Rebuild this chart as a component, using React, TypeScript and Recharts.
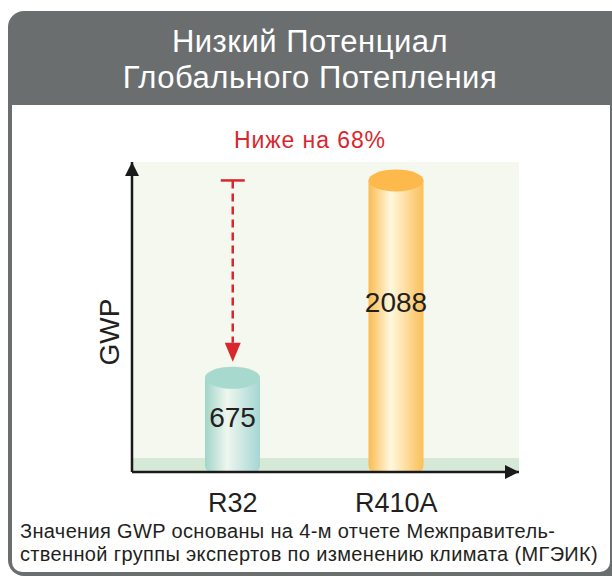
import React from 'react';
import { Bar, BarChart, CartesianGrid, ReferenceArea, ReferenceLine, XAxis, YAxis } from 'recharts';

const refrigerants = ['R32', 'R410A'];
const gwpValues = [675, 2088];
const groundBand = [0, 100];
const titleLines = ['Низкий Потенциал', 'Глобального Потепления'];
const reductionText = 'Ниже на 68%';
const yAxisTitle = 'GWP';
const footnoteLines = [
  'Значения GWP основаны на 4-м отчете Межправитель-',
  'ственной группы экспертов по изменению климата (МГЭИК)',
];

const data = refrigerants.map((name, i) => ({ name, gwp: gwpValues[i] }));

const FONT = '"Liberation Sans", Arial, Helvetica, sans-serif';
const RED = '#d9272e';
const INK = '#231f20';

const palettes = [
  { edgeL: '#9fd5ca', mid: '#eff6ef', edgeR: '#a5d6d3', top: '#a8d9cf' },
  { edgeL: '#fbbb50', mid: '#fff8de', edgeR: '#fbbf58', top: '#fdb94c' },
];

function Cylinder(props: any) {
  const { x, y, width, height, index, payload } = props;
  const rx = width / 2;
  const ry = 11;
  const cx = x + rx;
  const bottom = y + height;
  const r = 7;
  const body = `M${x},${y} L${x},${bottom - r} Q${x},${bottom} ${x + r},${bottom} L${x + width - r},${bottom} Q${x + width},${bottom} ${x + width},${bottom - r} L${x + width},${y} Z`;
  return (
    <g>
      <path d={body} fill={`url(#cyl${index})`} />
      <ellipse cx={cx} cy={y} rx={rx} ry={ry} fill={palettes[index].top} />
      <text
        x={cx}
        y={y + height * 0.42}
        textAnchor="middle"
        dominantBaseline="central"
        fontSize={28}
        fontFamily={FONT}
        fill={INK}
      >
        {payload.gwp}
      </text>
    </g>
  );
}

function DropArrow(props: any) {
  const { x1, y1, x2, y2 } = props;
  const tip = y2 - 16;
  const base = tip - 19;
  return (
    <g>
      <line x1={x1 - 12} x2={x1 + 12} y1={y1} y2={y1} stroke={RED} strokeWidth={2.5} />
      <line x1={x1} y1={y1} x2={x2} y2={base} stroke={RED} strokeWidth={2.5} strokeDasharray="8 5" />
      <path d={`M${x2 - 8},${base} L${x2 + 8},${base} L${x2},${tip} Z`} fill={RED} />
    </g>
  );
}

export default function App() {
  return (
    <div
      style={{
        position: 'absolute',
        left: 0,
        top: 0,
        width: 612,
        height: 576,
        overflow: 'hidden',
        background: '#ffffff',
        fontFamily: FONT,
      }}
    >
      <div
        style={{
          position: 'absolute',
          left: 8,
          top: 11,
          width: 620,
          height: 565,
          borderRadius: 16,
          background: '#6b6e6f',
        }}
      />
      <div
        style={{
          position: 'absolute',
          left: 12,
          top: 105,
          width: 598,
          height: 467,
          borderRadius: '0 0 10px 10px',
          background: '#ffffff',
        }}
      />
      <div
        style={{
          position: 'absolute',
          left: 8,
          top: 24,
          width: 604,
          textAlign: 'center',
          color: '#ffffff',
          fontSize: 31,
          letterSpacing: 0.5,
          lineHeight: '36px',
        }}
      >
        {titleLines.map((t) => (
          <div key={t}>{t}</div>
        ))}
      </div>
      <div
        style={{
          position: 'absolute',
          left: 160,
          top: 129,
          width: 300,
          textAlign: 'center',
          color: RED,
          fontSize: 23,
          letterSpacing: 0.9,
          lineHeight: '23px',
        }}
      >
        {reductionText}
      </div>
      <div
        style={{
          position: 'absolute',
          left: 60,
          top: 318,
          width: 100,
          textAlign: 'center',
          color: INK,
          fontSize: 28,
          lineHeight: '28px',
          transform: 'rotate(-90deg)',
        }}
      >
        {yAxisTitle}
      </div>
      <div
        style={{
          position: 'absolute',
          left: 20,
          top: 520,
          color: INK,
          fontSize: 20,
          letterSpacing: 0.35,
          lineHeight: '23px',
          whiteSpace: 'nowrap',
        }}
      >
        {footnoteLines.map((t) => (
          <div key={t}>{t}</div>
        ))}
      </div>
      <div style={{ position: 'absolute', left: 0, top: 0 }}>
        <BarChart
          width={612}
          height={576}
          data={data}
          margin={{ top: 162, right: 93, bottom: 74, left: 122 }}
        >
          <defs>
            {palettes.map((p, i) => (
              <linearGradient key={i} id={`cyl${i}`} x1="0" y1="0" x2="1" y2="0">
                <stop offset="0%" stopColor={p.edgeL} />
                <stop offset="40%" stopColor={p.mid} />
                <stop offset="100%" stopColor={p.edgeR} />
              </linearGradient>
            ))}
            <marker
              id="axisArrow"
              viewBox="0 0 10 10"
              refX="10"
              refY="5"
              markerUnits="userSpaceOnUse"
              markerWidth="14"
              markerHeight="14"
              orient="auto-start-reverse"
            >
              <path d="M0,0 L10,5 L0,10 Z" fill="#1a1a1a" />
            </marker>
          </defs>
          <CartesianGrid horizontal={false} vertical={false} fill="#f4f8ee" />
          <XAxis xAxisId="full" type="number" domain={[0, 1]} hide />
          <ReferenceArea
            xAxisId="full"
            x1={0}
            x2={1}
            y1={groundBand[0]}
            y2={groundBand[1]}
            fill="#d6e9d7"
            fillOpacity={1}
            stroke="none"
          />
          <XAxis
            dataKey="name"
            height={30}
            padding={{ left: 19, right: 41 }}
            tickLine={false}
            tickSize={0}
            tickMargin={21}
            tick={{ fontSize: 27, fill: INK, fontFamily: FONT }}
            axisLine={{ stroke: '#1a1a1a', strokeWidth: 2.5, markerEnd: 'url(#axisArrow)' }}
          />
          <YAxis
            width={10}
            domain={[0, 2220]}
            tick={false}
            tickLine={false}
            axisLine={{ stroke: '#1a1a1a', strokeWidth: 2.5, markerStart: 'url(#axisArrow)' }}
          />
          <Bar dataKey="gwp" barSize={55} shape={Cylinder} isAnimationActive={false} />
          <ReferenceLine
            segment={[
              { x: refrigerants[0], y: gwpValues[1] },
              { x: refrigerants[0], y: gwpValues[0] },
            ]}
            shape={DropArrow}
          />
        </BarChart>
      </div>
    </div>
  );
}
